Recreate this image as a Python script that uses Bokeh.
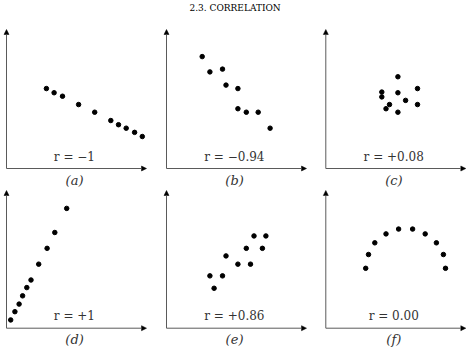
from bokeh.plotting import figure
from bokeh.layouts import gridplot
from bokeh.models import Range1d, Arrow, NormalHead, ColumnDataSource
from bokeh.core.properties import value
from bokeh.embed import file_html
from bokeh.resources import INLINE

# ---------------- data ----------------
TITLE = "2.3. CORRELATION"
panel_tags = ["(a)", "(b)", "(c)", "(d)", "(e)", "(f)"]
r_labels = ["r = \u22121", "r = \u22120.94", "r = +0.08", "r = +1", "r = +0.86", "r = 0.00"]

a_x = [2.85, 3.4, 4.0, 5.15, 6.3, 7.45, 8.0, 8.55, 9.15, 9.7]
a_y = [5.75, 5.45, 5.2, 4.6, 4.05, 3.45, 3.15, 2.9, 2.6, 2.3]

b_x = [2.55, 3.1, 4.0, 4.25, 5.1, 5.1, 5.7, 6.55, 7.4]
b_y = [8.05, 6.95, 7.15, 6.0, 5.75, 4.3, 4.05, 4.05, 2.9]

c_x = [5.15, 4.0, 4.0, 5.15, 6.55, 5.7, 4.55, 4.3, 5.15, 6.55]
c_y = [6.6, 5.5, 5.15, 5.45, 5.75, 4.9, 4.6, 4.3, 4.05, 4.6]

d_x = [0.3, 0.6, 0.9, 1.15, 1.45, 1.75, 2.3, 2.9, 3.45, 4.3]
d_y = [0.6, 1.2, 1.75, 2.35, 2.95, 3.5, 4.65, 5.8, 6.95, 8.7]

e_x = [6.25, 7.1, 5.7, 6.85, 4.25, 5.1, 6.0, 3.1, 4.0, 3.4]
e_y = [6.7, 6.7, 5.8, 5.8, 5.25, 4.65, 4.65, 3.8, 3.8, 2.9]

f_x = [2.85, 3.05, 3.5, 4.3, 5.2, 6.2, 7.1, 7.9, 8.4, 8.55]
f_y = [4.35, 5.35, 6.2, 6.85, 7.2, 7.2, 6.85, 6.2, 5.35, 4.35]

series_x = [a_x, b_x, c_x, d_x, e_x, f_x]
series_y = [a_y, b_y, c_y, d_y, e_y, f_y]

# ---------------- layout geometry ----------------
col_w = [160, 160, 154]
col_ox = [6, 6, 5.3]
sx = 14.0
row_h = [189, 162]
row_oy = [168, 138.7]
sy = [13.9, 13.77]

SERIF = value("DejaVu Serif")
AXIS_COL = "#5a5a5a"

figs = []
for i in range(2):
    row = []
    for j in range(3):
        k = i * 3 + j
        p = figure(width=col_w[j], height=row_h[i],
                   x_range=Range1d(-col_ox[j] / sx, (col_w[j] - col_ox[j]) / sx),
                   y_range=Range1d(-(row_h[i] - row_oy[i]) / sy[i], row_oy[i] / sy[i]),
                   x_axis_location=None, y_axis_location=None,
                   toolbar_location=None, output_backend="svg",
                   min_border=0, outline_line_color=None)
        p.grid.visible = False
        p.background_fill_color = "white"
        p.border_fill_color = "white"

        for (x0, y0, x1, y1) in [(0, 0, 10, 0), (0, 0, 0, 10)]:
            p.add_layout(Arrow(x_start=x0, y_start=y0, x_end=x1, y_end=y1,
                               line_color=AXIS_COL, line_width=1,
                               end=NormalHead(size=5, fill_color="black",
                                              line_color="black", line_width=0.5)))

        src = ColumnDataSource(dict(x=series_x[k], y=series_y[k]))
        p.scatter("x", "y", source=src, size=4.5, color="black")

        p.text(x=[4.85], y=[0.85 if i == 0 else 0.9], text=[r_labels[k]],
               text_font=SERIF, text_font_size="12px", text_color="#333333",
               text_align="center", text_baseline="middle")
        p.text(x=[4.86], y=[-0.85], text=[panel_tags[k]],
               text_font=SERIF, text_font_size="13px", text_font_style="italic",
               text_color="#333333", text_align="center", text_baseline="middle")
        if k == 1:
            p.text(x=[4.9], y=[11.58], text=[TITLE],
                   text_font=SERIF, text_font_size="9px", text_color="black",
                   text_align="center", text_baseline="middle")
        row.append(p)
    figs.append(row)

grid = gridplot(figs, toolbar_location=None)

open("out.html", "w").write(file_html(grid, INLINE))
